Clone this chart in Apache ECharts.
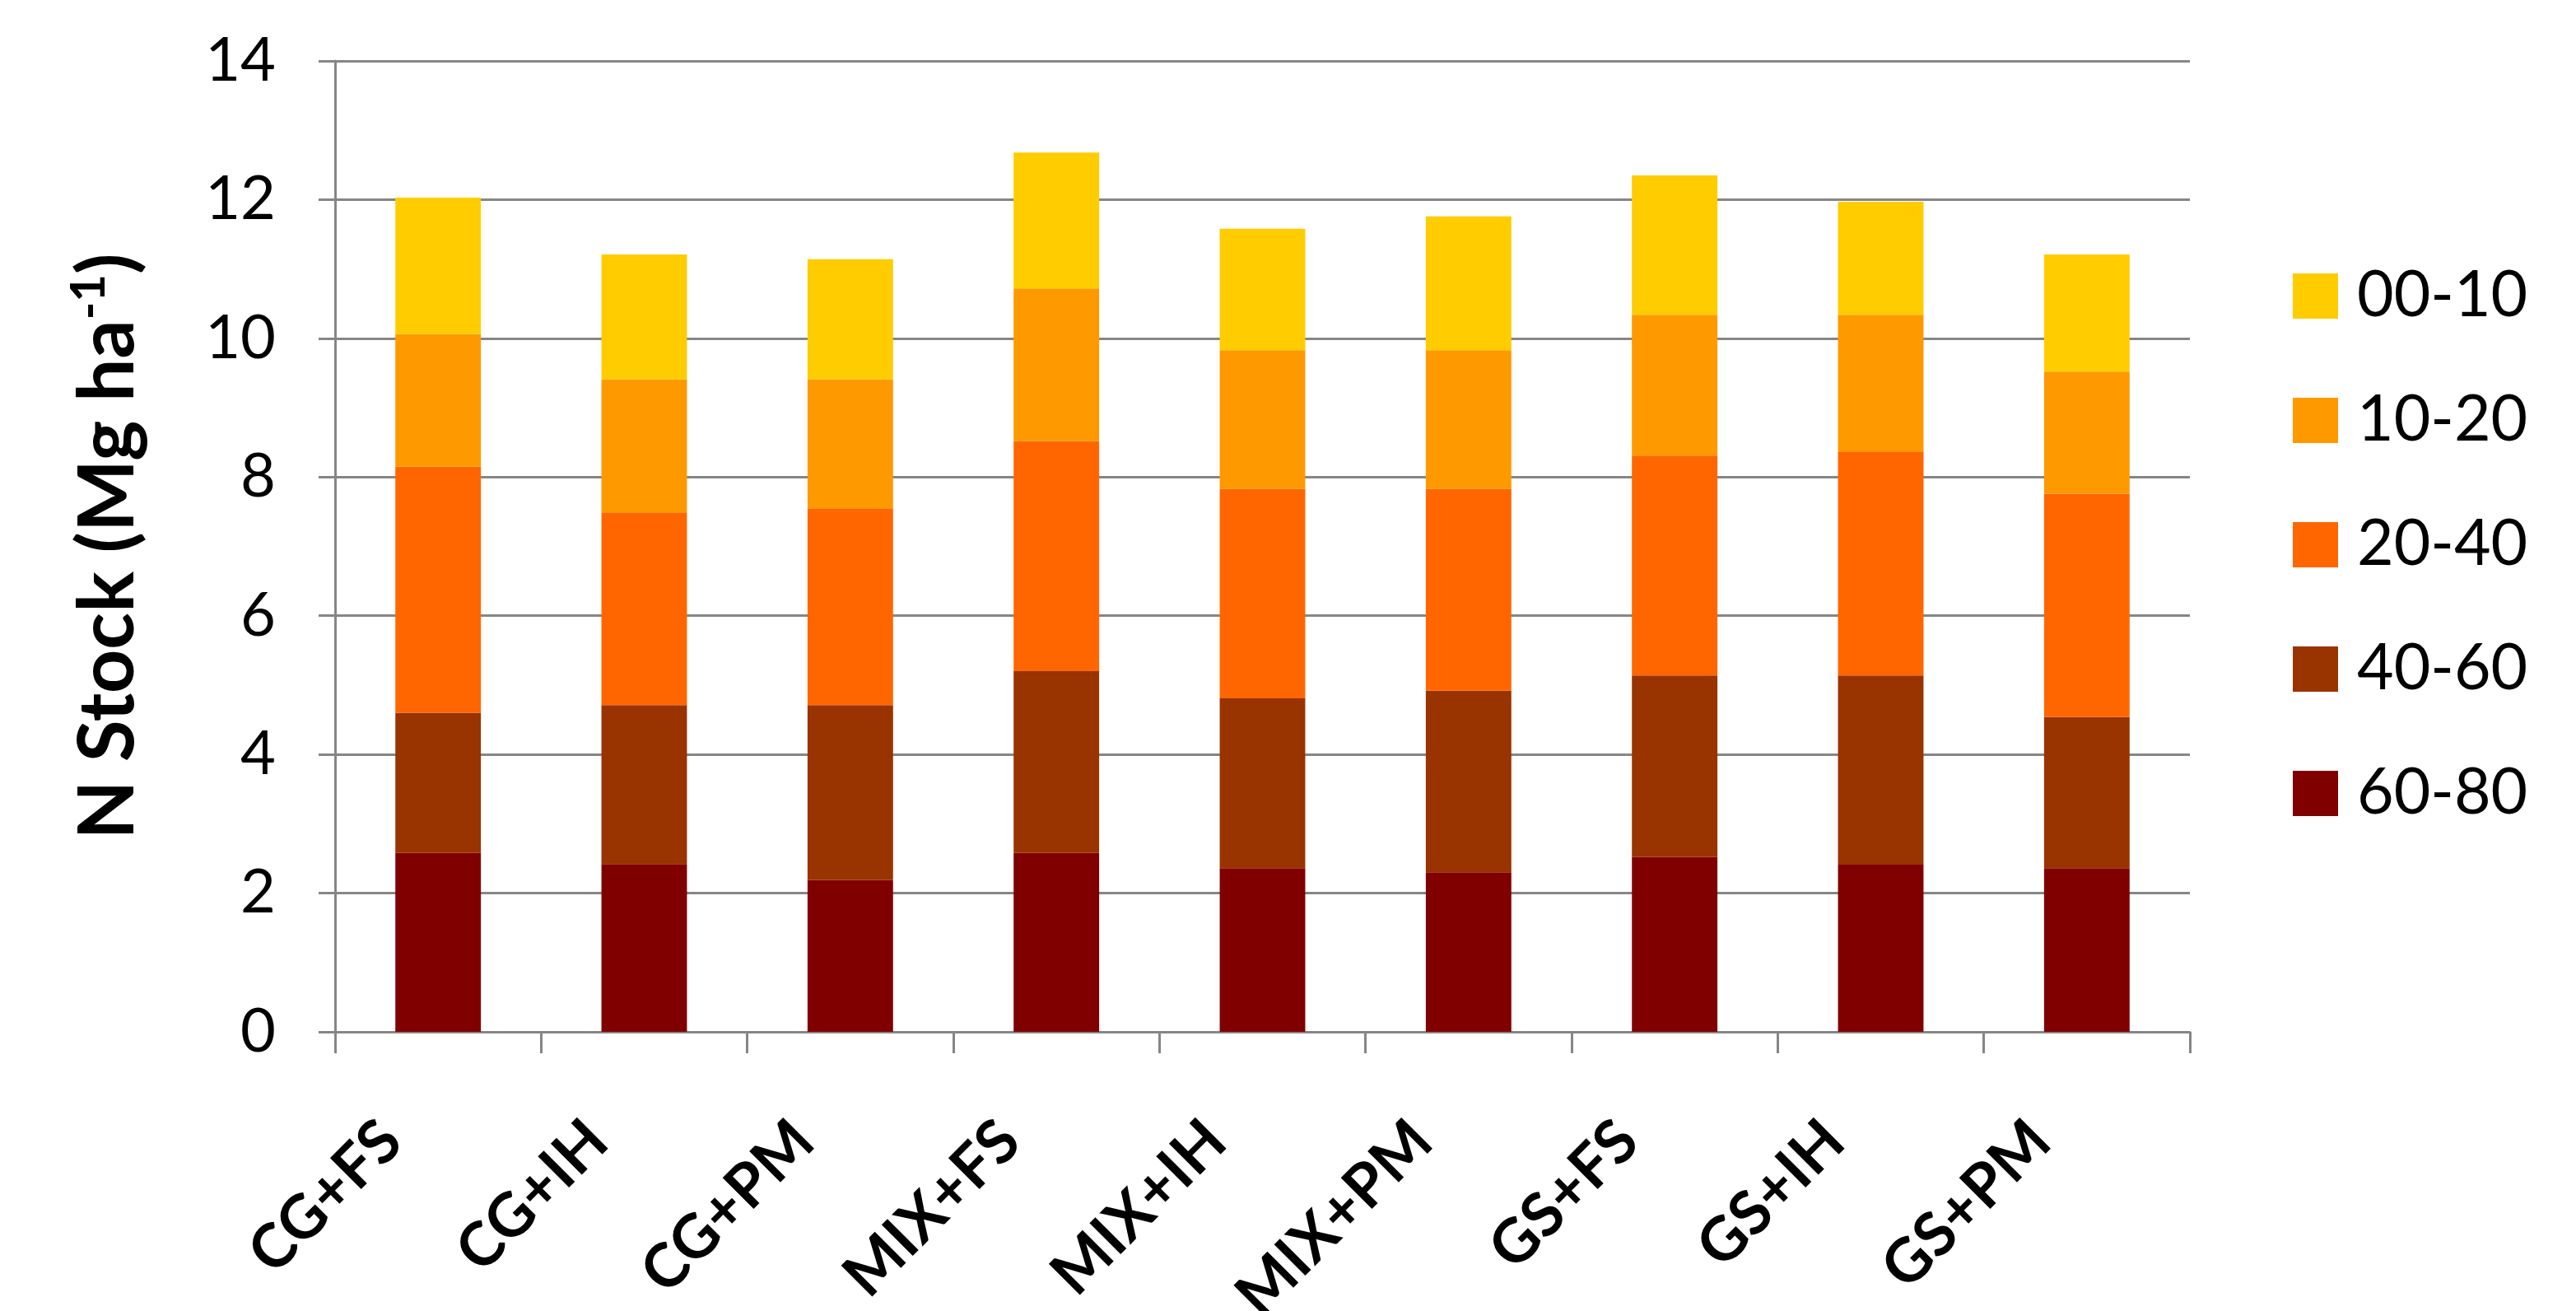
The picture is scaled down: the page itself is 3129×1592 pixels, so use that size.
<!DOCTYPE html>
<html>
<head>
<meta charset="utf-8">
<script src="https://cdn.jsdelivr.net/npm/echarts@6/dist/echarts.min.js"></script>
<style>
  html, body { margin: 0; padding: 0; background: #ffffff; }
  #chart { width: 3129px; height: 1592px; }
</style>
</head>
<body>
<div id="chart"></div>
<script>
// Treatments on the x axis
const categories = ['CG+FS', 'CG+IH', 'CG+PM', 'MIX+FS', 'MIX+IH', 'MIX+PM', 'GS+FS', 'GS+IH', 'GS+PM'];

// N stock per soil depth layer (Mg ha-1), stacked from the deepest layer up
const depth6080 = [2.58, 2.42, 2.19, 2.58, 2.36, 2.30, 2.52, 2.41, 2.36];
const depth4060 = [2.02, 2.29, 2.52, 2.62, 2.45, 2.62, 2.62, 2.73, 2.18];
const depth2040 = [3.55, 2.78, 2.84, 3.32, 3.02, 2.91, 3.17, 3.22, 3.22];
const depth1020 = [1.91, 1.92, 1.86, 2.20, 2.00, 2.00, 2.03, 1.98, 1.76];
const depth0010 = [1.97, 1.80, 1.73, 1.96, 1.75, 1.93, 2.01, 1.63, 1.69];

// Layer names and fill colours
const layerNames = ['60-80', '40-60', '20-40', '10-20', '00-10'];
const layerColors = ['#800000', '#993300', '#FF6600', '#FF9900', '#FFCC00'];
const layerValues = [depth6080, depth4060, depth2040, depth1020, depth0010];

// Y axis range
const yMin = 0, yMax = 14, yStep = 2;

const FONT = 'Lato';
const GRID_GRAY = '#868686';

const chart = echarts.init(document.getElementById('chart'), null, { renderer: 'canvas' });

const series = layerNames.map((name, i) => ({
  name: name,
  type: 'bar',
  stack: 'N',
  data: layerValues[i],
  barWidth: '41.5%',
  itemStyle: { color: layerColors[i] },
  emphasis: { disabled: true }
}));

chart.setOption({
  backgroundColor: '#ffffff',
  animation: false,
  textStyle: { fontFamily: FONT, color: '#000000' },
  grid: { left: 407, right: 469, top: 74, bottom: 339, containLabel: false, outerBoundsMode: 'none' },
  legend: {
    orient: 'vertical',
    left: 2780,
    top: 316,
    itemWidth: 55,
    itemHeight: 55,
    itemGap: 74,
    icon: 'rect',
    data: layerNames.slice().reverse(),
    textStyle: { fontFamily: FONT, fontSize: 77, color: '#000000', padding: [0, 0, 0, 18] }
  },
  xAxis: {
    type: 'category',
    data: categories,
    axisLine: { show: true, lineStyle: { color: GRID_GRAY, width: 3 } },
    axisTick: { show: true, length: 26, lineStyle: { color: GRID_GRAY, width: 3 } },
    axisLabel: {
      rotate: 45,
      margin: 64,
      padding: [0, 80, 0, 0],
      fontFamily: FONT,
      fontSize: 74,
      fontWeight: 'bold',
      color: '#000000'
    }
  },
  yAxis: {
    type: 'value',
    min: yMin,
    max: yMax,
    interval: yStep,
    name: '{t|N Stock (Mg ha}{s|-1}{t|)}',
    nameLocation: 'middle',
    nameGap: 222,
    nameTextStyle: {
      rich: {
        t: { fontFamily: FONT, fontSize: 93, fontWeight: 'bold', color: '#000000', lineHeight: 106 },
        s: { fontFamily: FONT, fontSize: 58, fontWeight: 'bold', color: '#000000', verticalAlign: 'top', lineHeight: 106, padding: [0, 0, 44, 0] }
      }
    },
    axisLine: { show: true, lineStyle: { color: GRID_GRAY, width: 3 } },
    axisTick: { show: true, length: 20, lineStyle: { color: GRID_GRAY, width: 3 } },
    axisLabel: { margin: 72, fontFamily: FONT, fontSize: 74, color: '#000000' },
    splitLine: { show: true, lineStyle: { color: GRID_GRAY, width: 3 } }
  },
  series: series
});
</script>
</body>
</html>
